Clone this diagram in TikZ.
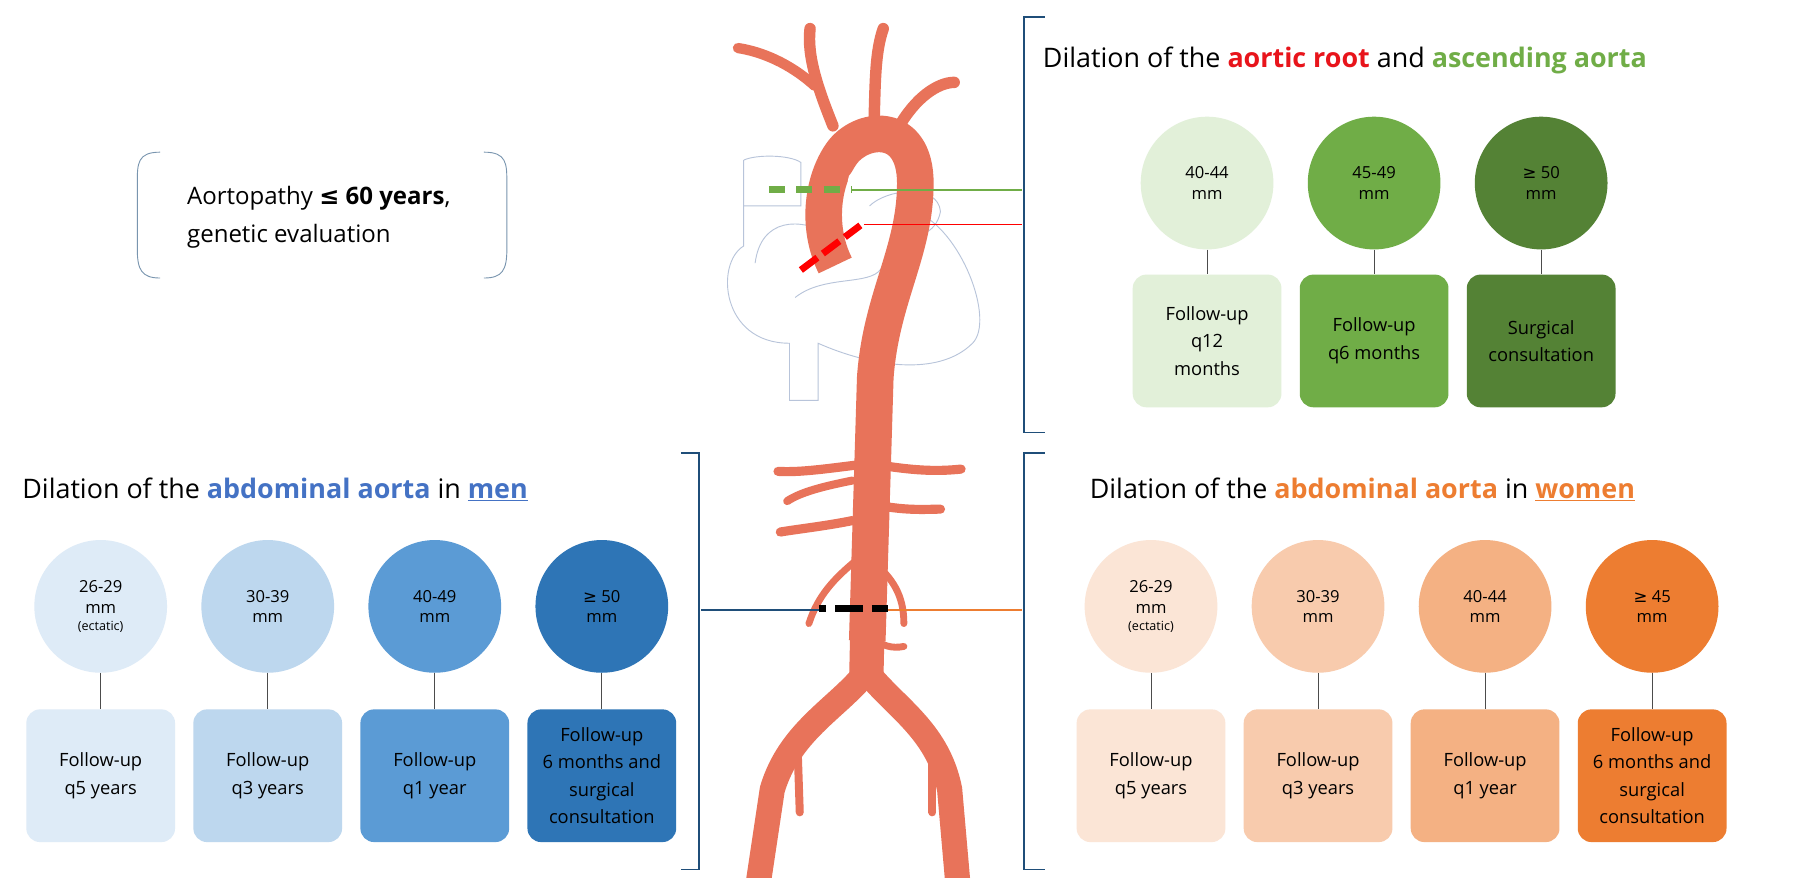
\documentclass[tikz,border=0pt]{standalone}
\usepackage{fontspec}
\setmainfont{Open Sans}
\newfontfamily\symf{DejaVu Sans}
\newcommand{\lesym}{{\symf ≤}}
\newcommand{\gesym}{{\symf ≥}}
\definecolor{gA}{HTML}{E2F0D9}\definecolor{gB}{HTML}{70AD47}\definecolor{gC}{HTML}{548235}
\definecolor{bA}{HTML}{DEEBF7}\definecolor{bB}{HTML}{BDD7EE}\definecolor{bC}{HTML}{5B9BD5}\definecolor{bD}{HTML}{2E75B6}
\definecolor{oA}{HTML}{FBE5D6}\definecolor{oB}{HTML}{F8CBAD}\definecolor{oC}{HTML}{F4B183}\definecolor{oD}{HTML}{ED7D31}
\definecolor{rtitle}{HTML}{E8141B}\definecolor{btitle}{HTML}{4472C4}
\definecolor{navy}{HTML}{1F4E79}\definecolor{aorta}{HTML}{E8735A}\definecolor{heart}{HTML}{B8C4DA}
\begin{document}
\begin{tikzpicture}[x=1pt,y=-1pt,
  circ/.style={circle,minimum size=116pt,inner sep=0pt,align=center,font=\fontsize{14.5}{18}\selectfont},
  box/.style={rounded corners=12pt,minimum width=130pt,minimum height=116pt,align=center,font=\fontsize{16}{24}\selectfont,inner sep=2pt},
  title/.style={anchor=west,font=\fontsize{23.5}{28}\selectfont},
  conn/.style={draw=black!70,line width=0.8pt},
  brk/.style={draw=navy,line width=1.5pt},
  vessel/.style={draw=aorta,line cap=round,line join=round},
  hrt/.style={draw=heart,line width=0.8pt}]
\useasboundingbox (0,0) rectangle (1568,767);
\fill[white] (0,0) rectangle (1568,767);
% heart outline
\draw[hrt] (650,140) -- (650,215) .. controls (625,230) and (630,300) .. (690,300) -- (690,350) -- (715,350) -- (715,300)
  .. controls (760,320) and (820,330) .. (850,300) .. controls (870,280) and (840,200) .. (800,185);
\draw[hrt] (660,230) .. controls (665,190) and (700,190) .. (725,205);
\draw[hrt] (650,140) .. controls (660,135) and (690,135) .. (700,142) -- (700,180) -- (650,180);
\draw[hrt] (695,260) .. controls (720,240) and (760,250) .. (770,235) .. controls (790,220) and (810,190) .. (790,160);
\draw[hrt] (760,180) .. controls (775,165) and (820,160) .. (822,185) .. controls (818,205) and (800,210) .. (780,205);
% aorta
\begin{scope}[vessel]
\draw[line width=10pt] (728,110) .. controls (716,80) and (705,50) .. (708,25);
\draw[line width=9pt] (712,75) .. controls (690,55) and (665,45) .. (645,42);
\draw[line width=10pt] (764,105) .. controls (765,70) and (765,45) .. (772,25);
\draw[line width=10pt] (785,112) .. controls (800,85) and (820,72) .. (834,72);
\draw[line width=32pt,line cap=butt] (730,232) .. controls (714,200) and (718,160) .. (735,135)
  .. controls (752,110) and (800,105) .. (800,160) .. controls (800,220) and (770,260) .. (765,330) -- (758,560);
\draw[line width=8pt] (760,405) .. controls (720,410) and (700,413) .. (680,412);
\draw[line width=8pt] (760,405) .. controls (800,412) and (820,412) .. (840,410);
\draw[line width=7pt] (745,420) .. controls (720,425) and (700,430) .. (688,438);
\draw[line width=8pt] (760,440) .. controls (790,447) and (810,445) .. (822,445);
\draw[line width=8pt] (745,455) .. controls (720,460) and (700,462) .. (682,465);
\draw[line width=6pt] (748,490) .. controls (730,505) and (715,520) .. (707,545);
\draw[line width=6pt] (762,490) .. controls (780,505) and (790,520) .. (790,545);
\draw[line width=6pt] (760,555) .. controls (770,565) and (780,567) .. (790,565);
\draw[line width=22pt,line cap=butt] (755,590) .. controls (730,620) and (690,640) .. (675,690) -- (663,770);
\draw[line width=22pt,line cap=butt] (760,590) .. controls (785,620) and (820,640) .. (830,690) -- (837,770);
\draw[line width=30pt,line cap=butt] (758,555) -- (757,600);
\draw[line width=7pt] (697,650) -- (699,710);
\draw[line width=7pt] (815,650) -- (815,710);
\end{scope}
\fill[white] (754,158) ellipse (13pt and 11pt);
% markers
\draw[gB,line width=6pt,dash pattern=on 14pt off 10pt] (672,166) -- (745,166);
\draw[red,line width=6pt,dash pattern=on 18pt off 6pt] (700,236) -- (752,197);
\draw[black,line width=6pt,dash pattern=on 6pt off 8pt on 24pt off 8pt on 24pt] (716,532) -- (776,532);
% lines
\draw[gB,line width=1.2pt] (745,166) -- (893,166);
\draw[red,line width=1.2pt] (755,196) -- (893,196);
\draw[navy,line width=1.2pt] (613,533) -- (716,533);
\draw[oD,line width=1.2pt] (776,533) -- (893,533);
% brackets
\draw[brk] (913,15) -- (895,15) -- (895,378) -- (913,378);
\draw[brk] (913,396) -- (895,396) -- (895,760) -- (913,760);
\draw[brk] (595,396) -- (611,396) -- (611,760) -- (595,760);
% aortopathy
\draw[navy!60,line width=0.8pt] (140,133) .. controls (120,133) and (120,143) .. (120,160) -- (120,218) .. controls (120,236) and (124,243) .. (140,243);
\draw[navy!60,line width=0.8pt] (423,133) .. controls (443,133) and (443,143) .. (443,160) -- (443,218) .. controls (443,236) and (439,243) .. (423,243);
\node[anchor=west,align=left,font=\fontsize{21}{33}\selectfont] (ap) at (160,190) {Aortopathy \textbf{\lesym{} 60 years},\\genetic evaluation};
% titles
\node[title] (t1) at (908,53) {Dilation of the \textcolor{rtitle}{\textbf{aortic root}} and \textcolor{gB}{\textbf{ascending aorta}}};
\node[title] (t2) at (16,428) {Dilation of the \textcolor{btitle}{\textbf{abdominal aorta}} in \textcolor{btitle}{\textbf{\underline{men}}}};
\node[title] (t3) at (949,428) {Dilation of the \textcolor{oD}{\textbf{abdominal aorta}} in \textcolor{oD}{\textbf{\underline{women}}}};
% top-right set
\foreach \i/\x/\c/\t/\b in {1/1055/gA/{40-44\\mm}/{Follow-up\\q12\\months},2/1201/gB/{45-49\\mm}/{Follow-up\\q6 months},3/1347/gC/{\gesym{} 50\\mm}/{Surgical\\consultation}}{
  \node[circ,fill=\c] (ga\i) at (\x,160) {\t};
  \node[box,fill=\c] (gb\i) at (\x,298) {\b};
  \draw[conn] (ga\i.south) -- (gb\i.north);}
% men
\foreach \i/\x/\c/\t/\b in {1/88/bA/{26-29\\mm\\[-3pt]{\fontsize{11}{13}\selectfont(ectatic)}}/{Follow-up\\q5 years},2/234/bB/{30-39\\mm}/{Follow-up\\q3 years},3/380/bC/{40-49\\mm}/{Follow-up\\q1 year},4/526/bD/{\gesym{} 50\\mm}/{Follow-up\\6 months and\\surgical\\consultation}}{
  \node[circ,fill=\c] (ba\i) at (\x,530) {\t};
  \node[box,fill=\c] (bb\i) at (\x,678) {\b};
  \draw[conn] (ba\i.south) -- (bb\i.north);}
% women
\foreach \i/\x/\c/\t/\b in {1/1006/oA/{26-29\\mm\\[-3pt]{\fontsize{11}{13}\selectfont(ectatic)}}/{Follow-up\\q5 years},2/1152/oB/{30-39\\mm}/{Follow-up\\q3 years},3/1298/oC/{40-44\\mm}/{Follow-up\\q1 year},4/1444/oD/{\gesym{} 45\\mm}/{Follow-up\\6 months and\\surgical\\consultation}}{
  \node[circ,fill=\c] (oa\i) at (\x,530) {\t};
  \node[box,fill=\c] (ob\i) at (\x,678) {\b};
  \draw[conn] (oa\i.south) -- (ob\i.north);}
\end{tikzpicture}
\end{document}
